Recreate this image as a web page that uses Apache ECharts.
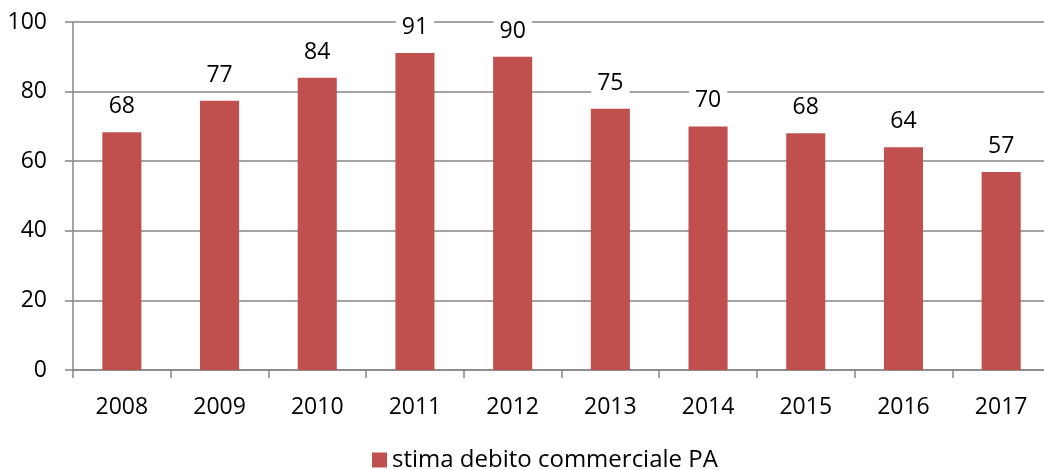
<!DOCTYPE html>
<html>
<head>
<meta charset="utf-8">
<script src="https://cdn.jsdelivr.net/npm/echarts@6/dist/echarts.min.js"></script>
<style>
  html, body { margin: 0; padding: 0; background: #fff; overflow: hidden; }
  #main { width: 1050px; height: 470px; }
</style>
</head>
<body>
<div id="main"></div>
<script>
// dati
var anni = ['2008', '2009', '2010', '2011', '2012', '2013', '2014', '2015', '2016', '2017'];
var debito = [68.3, 77.4, 84, 91.1, 90, 75.1, 70, 68, 64, 56.9];
var yTicks = [0, 20, 40, 60, 80, 100];

var font = '"Open Sans", Calibri, sans-serif';
var myChart = echarts.init(document.getElementById('main'));

myChart.setOption({
  animation: false,
  textStyle: { fontFamily: font },
  grid: { left: 73, top: 22, right: 0, bottom: 100 },
  legend: {
    bottom: -2,
    padding: 0,
    left: 372,
    itemWidth: 15,
    itemHeight: 15,
    itemGap: 6,
    icon: 'rect',
    textStyle: { fontSize: 24, color: '#000', fontFamily: font },
    data: ['stima debito commerciale PA']
  },
  xAxis: {
    type: 'category',
    data: anni,
    axisLine: { lineStyle: { color: '#868686', width: 1.5 } },
    axisTick: { show: true, length: 8, lineStyle: { color: '#868686', width: 1.5 } },
    axisLabel: { fontSize: 23, color: '#000', margin: 26, fontFamily: font }
  },
  yAxis: {
    type: 'value',
    min: yTicks[0],
    max: yTicks[yTicks.length - 1],
    interval: 20,
    axisLine: { show: true, lineStyle: { color: '#868686', width: 1.5 } },
    axisTick: { show: true, length: 8, lineStyle: { color: '#868686', width: 1.5 } },
    splitLine: { lineStyle: { color: '#868686', width: 1.5 } },
    axisLabel: { fontSize: 23, color: '#000', margin: 26, fontFamily: font }
  },
  series: [{
    name: 'stima debito commerciale PA',
    type: 'bar',
    data: debito,
    barWidth: '40%',
    itemStyle: { color: '#C0504D' },
    label: {
      show: true,
      position: 'top',
      distance: 12,
      fontSize: 23,
      color: '#000',
      fontFamily: font,
      backgroundColor: '#fff',
      padding: [2, 6],
      formatter: function (p) { return Math.round(p.value); }
    }
  }]
});
</script>
</body>
</html>
